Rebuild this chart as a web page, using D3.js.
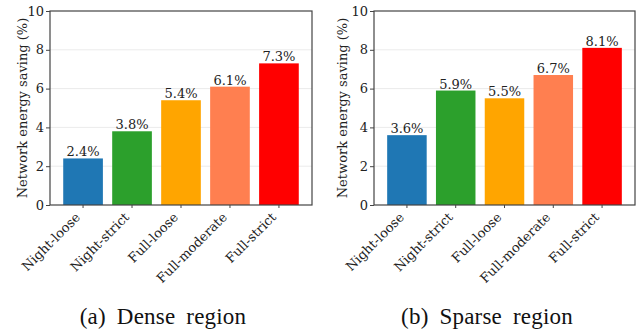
<!DOCTYPE html>
<html>
<head>
<meta charset="utf-8">
<script src="https://cdn.jsdelivr.net/npm/d3@7"></script>
<style>
  body { margin: 0; background: #fff; }
  svg { display: block; }
</style>
</head>
<body>
<svg id="chart" width="639" height="331"></svg>
<script>
// Data
const strategies = ["Night-loose", "Night-strict", "Full-loose", "Full-moderate", "Full-strict"];
const denseSaving = [2.4, 3.8, 5.4, 6.1, 7.3];
const sparseSaving = [3.6, 5.9, 5.5, 6.7, 8.1];
const yTicks = [0, 2, 4, 6, 8, 10];
const barColors = ["#1f77b4", "#2ca02c", "#ffa500", "#ff7f50", "#ff0000"];
const captions = ["(a) Dense region", "(b) Sparse region"];

const svg = d3.select("#chart");

const plotFont = "'DejaVu Serif', serif";
const captionFont = "'Liberation Serif', 'Times New Roman', Times, serif";

function drawPanel(values, caption, box) {
    const g = svg.append("g");

    const x = d3.scaleBand()
        .domain(strategies)
        .range([box.left, box.right])
        .paddingInner(0.19)
        .paddingOuter(0.27);

    const y = d3.scaleLinear()
        .domain([0, 10])
        .range([box.bottom, box.top]);

    const color = d3.scaleOrdinal(strategies, barColors);

    // light grid
    g.append("g")
        .selectAll("line")
        .data(yTicks.filter(t => t > 0 && t < 10))
        .join("line")
            .attr("x1", box.left)
            .attr("x2", box.right)
            .attr("y1", d => y(d))
            .attr("y2", d => y(d))
            .attr("stroke", "#ebebeb")
            .attr("stroke-width", 1);

    // bars
    g.append("g")
        .selectAll("rect")
        .data(values)
        .join("rect")
            .attr("x", (d, i) => x(strategies[i]))
            .attr("y", d => y(d))
            .attr("width", x.bandwidth())
            .attr("height", d => y(0) - y(d))
            .attr("fill", (d, i) => color(strategies[i]));

    // value labels
    g.append("g")
        .selectAll("text")
        .data(values)
        .join("text")
            .attr("x", (d, i) => x(strategies[i]) + x.bandwidth() / 2)
            .attr("y", d => y(d) - 2)
            .attr("text-anchor", "middle")
            .attr("font-family", plotFont)
            .attr("font-size", 13)
            .attr("fill", "#222")
            .text(d => d.toFixed(1) + "%");

    // frame
    g.append("rect")
        .attr("x", box.left)
        .attr("y", box.top)
        .attr("width", box.right - box.left)
        .attr("height", box.bottom - box.top)
        .attr("fill", "none")
        .attr("stroke", "#444")
        .attr("stroke-width", 1.2);

    // y axis
    g.append("g")
        .attr("transform", `translate(${box.left},0)`)
        .call(d3.axisLeft(y).tickValues(yTicks).tickSize(4).tickPadding(2))
        .call(a => a.select(".domain").remove())
        .call(a => a.selectAll("line").attr("stroke", "#444"))
        .call(a => a.selectAll("text")
            .attr("font-family", plotFont)
            .attr("font-size", 13)
            .attr("fill", "#222"));

    // x axis, labels turned 45 degrees
    g.append("g")
        .attr("transform", `translate(0,${box.bottom})`)
        .call(d3.axisBottom(x).tickSize(3))
        .call(a => a.select(".domain").remove())
        .call(a => a.selectAll("line").attr("stroke", "#444"))
        .call(a => a.selectAll("text")
            .attr("x", 0)
            .attr("y", 0)
            .attr("dy", 0)
            .attr("font-family", plotFont)
            .attr("font-size", 13)
            .attr("fill", "#222")
            .attr("text-anchor", "end")
            .attr("transform", "translate(-2,13) rotate(-45)"));

    // y label
    g.append("text")
        .attr("transform", `translate(${box.ylabelX},${(box.top + box.bottom) / 2}) rotate(-90)`)
        .attr("text-anchor", "middle")
        .attr("dy", "0.35em")
        .attr("font-family", plotFont)
        .attr("font-size", 13)
        .attr("fill", "#222")
        .text("Network energy saving (%)");

    // caption
    g.append("text")
        .attr("x", box.captionX)
        .attr("y", 324)
        .attr("text-anchor", "middle")
        .attr("font-family", captionFont)
        .attr("font-size", 23)
        .attr("letter-spacing", 0.2)
        .attr("word-spacing", 5)
        .attr("fill", "#111")
        .text(caption);
}

drawPanel(denseSaving, captions[0], { left: 50, right: 312, top: 11, bottom: 205, ylabelX: 22, captionX: 163 });
drawPanel(sparseSaving, captions[1], { left: 374, right: 635, top: 11, bottom: 205, ylabelX: 342, captionX: 487 });
</script>
</body>
</html>
